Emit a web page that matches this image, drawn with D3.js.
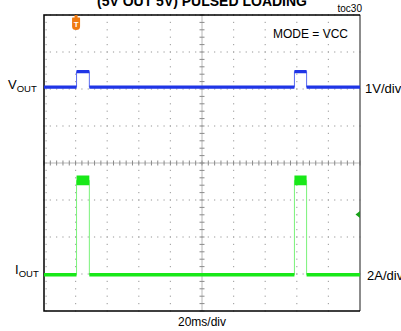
<!DOCTYPE html>
<html>
<head>
<meta charset="utf-8">
<script src="https://cdn.jsdelivr.net/npm/d3@7"></script>
<style>
  body { margin: 0; background: #fff; }
  svg { display: block; font-family: "Liberation Sans", Arial, sans-serif; }
</style>
</head>
<body>
<div id="scope"></div>
<script>
(function () {
  const W = 401, H = 331;
  const plot = { left: 44, right: 360, top: 15, bottom: 311 };

  // Waveform data (time in ms, 20ms/div, 10 divisions)
  const timeMs = [0, 20.6, 20.6, 28.7, 28.7, 158.5, 158.5, 166.2, 166.2, 200];
  const voutV = [0, 0, 0.42, 0.42, 0, 0, 0.42, 0.42, 0, 0];
  const ioutA = [0, 0, 5.1, 5.1, 0, 0, 5.1, 5.1, 0, 0];
  // noise envelope half-widths, same units as the trace
  const voutNoise = [0.045, 0.045, 0.045, 0.045, 0.045, 0.045, 0.045, 0.045, 0.045, 0.045];
  const ioutNoise = [0.1, 0.1, 0.26, 0.26, 0.1, 0.1, 0.26, 0.26, 0.1, 0.1];

  // channel settings
  const voutOffsetDiv = 2.05, voutPerDiv = 1;   // 1V/div
  const ioutOffsetDiv = -3.02, ioutPerDiv = 2;  // 2A/div
  const triggerTimeMs = 20.3;
  const triggerLevelA = 3.25;

  const xDivs = d3.range(0, 201, 20);
  const yDivs = d3.range(-4, 5, 1);

  const svg = d3.select("#scope").append("svg")
    .attr("width", W).attr("height", H);

  const x = d3.scaleLinear().domain([0, 200]).range([plot.left, plot.right]);
  const y = d3.scaleLinear().domain([-4, 4]).range([plot.bottom, plot.top]);

  // title (clipped at the top of the picture, as in the reference)
  svg.append("text")
    .attr("x", 202).attr("y", 6)
    .attr("text-anchor", "middle")
    .style("font-weight", "bold").style("font-size", "14px")
    .text("(5V OUT 5V) PULSED LOADING");

  svg.append("text")
    .attr("x", 362).attr("y", 12)
    .attr("text-anchor", "end")
    .style("font-size", "10px")
    .text("toc30");

  // dotted grid
  const grid = svg.append("g").attr("fill", "#a8a8a8");
  const minorX = d3.range(0, 200.01, 4);
  const minorY = d3.range(-4, 4.01, 0.2);
  yDivs.filter(d => d !== 0 && d !== -4).forEach(k => {
    grid.selectAll(null).data(minorX).enter().append("rect")
      .attr("x", d => x(d) - 0.6).attr("y", y(k) - 0.6)
      .attr("width", 1.2).attr("height", 1.2);
  });
  xDivs.filter(d => d !== 100 && d !== 0 && d !== 200).forEach(t => {
    grid.selectAll(null).data(minorY).enter().append("rect")
      .attr("x", x(t) - 0.6).attr("y", d => y(d) - 0.6)
      .attr("width", 1.2).attr("height", 1.2);
  });
  // minor ticks along the left edge
  grid.selectAll(null).data(minorY).enter().append("rect")
    .attr("x", plot.left + 1.5).attr("y", d => y(d) - 0.6)
    .attr("width", 1.2).attr("height", 1.2);

  // centre cross with ticks
  const cross = svg.append("g");
  cross.append("line")
    .attr("x1", x(0)).attr("x2", x(200)).attr("y1", y(0)).attr("y2", y(0))
    .attr("stroke", "#b8b8b8");
  cross.append("line")
    .attr("x1", x(100)).attr("x2", x(100)).attr("y1", y(-4)).attr("y2", y(4))
    .attr("stroke", "#b8b8b8");
  cross.selectAll(".tx").data(minorX).enter().append("line")
    .attr("x1", d => x(d)).attr("x2", d => x(d))
    .attr("y1", y(0) - 2.5).attr("y2", y(0) + 2.5)
    .attr("stroke", "#8a8a8a");
  cross.selectAll(".ty").data(minorY).enter().append("line")
    .attr("y1", d => y(d)).attr("y2", d => y(d))
    .attr("x1", x(100) - 2.5).attr("x2", x(100) + 2.5)
    .attr("stroke", "#8a8a8a");

  // frame
  svg.append("line").attr("x1", plot.right).attr("x2", plot.right)
    .attr("y1", plot.top).attr("y2", plot.bottom)
    .attr("stroke", "#666").attr("stroke-width", 1.5);
  svg.append("path")
    .attr("d", `M${plot.right},${plot.top}H${plot.left}V${plot.bottom}H${plot.right}`)
    .attr("fill", "none").attr("stroke", "#000").attr("stroke-width", 1.5);

  // traces: thin edges first, then the noise band on top
  function drawTrace(vals, noise, offset, perDiv, bandColor, edgeColor) {
    const pts = timeMs.map((t, i) => ({ t: t, v: vals[i], n: noise[i] }));
    const yv = v => y(offset + v / perDiv);
    svg.append("path").datum(pts)
      .attr("fill", "none").attr("stroke", edgeColor).attr("stroke-width", 1)
      .attr("d", d3.line().x(d => x(d.t)).y(d => yv(d.v)));
    svg.append("path").datum(pts)
      .attr("fill", bandColor)
      .attr("d", d3.area()
        .x(d => x(d.t))
        .y0(d => yv(d.v - d.n))
        .y1(d => yv(d.v + d.n)));
  }
  drawTrace(voutV, voutNoise, voutOffsetDiv, voutPerDiv, "#1f35e6", "#5a6cf0");
  drawTrace(ioutA, ioutNoise, ioutOffsetDiv, ioutPerDiv, "#18e818", "#7af27a");

  // trigger position marker
  const tx = x(triggerTimeMs);
  const trig = svg.append("g").attr("transform", `translate(${tx},${plot.top})`);
  trig.append("path")
    .attr("d", "M-1.5,0L1.5,0L1.5,2.5L3.5,2.5Q4,2.5 4,3.5L4,11.5Q4,15 0,15Q-4,15 -4,11.5L-4,3.5Q-4,2.5 -3.5,2.5L-1.5,2.5Z")
    .attr("fill", "#f07a10");
  trig.append("text")
    .attr("x", 0).attr("y", 12)
    .attr("text-anchor", "middle")
    .attr("fill", "#fff")
    .style("font-size", "8px").style("font-weight", "bold")
    .text("T");

  // trigger level marker (right edge)
  const ty = y(ioutOffsetDiv + triggerLevelA / ioutPerDiv);
  svg.append("path")
    .attr("d", `M${plot.right},${ty - 3.5}L${plot.right - 4.5},${ty}L${plot.right},${ty + 3.5}Z`)
    .attr("fill", "#1aa01a");

  // text labels
  svg.append("text").attr("x", 348).attr("y", 38)
    .attr("text-anchor", "end").style("font-size", "12px")
    .text("MODE = VCC");

  const vl = svg.append("text").attr("x", 8).attr("y", 89).style("font-size", "13px");
  vl.append("tspan").text("V");
  vl.append("tspan").attr("dy", 3).style("font-size", "9.5px").text("OUT");

  const il = svg.append("text").attr("x", 15).attr("y", 274).style("font-size", "13px");
  il.append("tspan").text("I");
  il.append("tspan").attr("dy", 3).style("font-size", "9.5px").text("OUT");

  svg.append("text").attr("x", 365).attr("y", 93)
    .style("font-size", "13px").text("1V/div");
  svg.append("text").attr("x", 367).attr("y", 280)
    .style("font-size", "13px").text("2A/div");

  svg.append("text").attr("x", 202).attr("y", 326)
    .attr("text-anchor", "middle").style("font-size", "12px")
    .text("20ms/div");
})();
</script>
</body>
</html>
